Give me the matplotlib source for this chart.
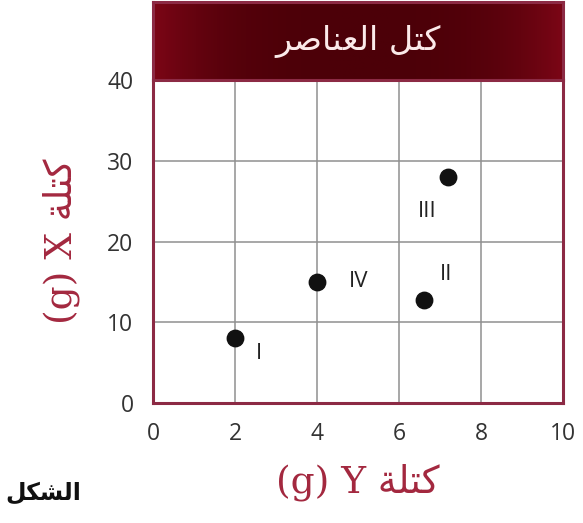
import numpy as np
import matplotlib
matplotlib.use("Agg")
import matplotlib.pyplot as plt

# Arabic text is written pre-shaped (presentation forms, visual order)
# because matplotlib does no bidi/shaping on its own
TITLE = "\uFEAE\uFEBB\uFE8E\uFEE8\uFECC\uFEDF\uFE8D \uFEDE\uFE98\uFEDB"   # كتل العناصر
MASS = "\uFE94\uFEE0\uFE98\uFEDB"                                        # كتلة
FIG = "\uFEDE\uFEDC\uFEB8\uFEDF\uFE8D"                                    # الشكل

# data
labels = ["I", "II", "III", "IV"]
mass_y = [2.0, 6.6, 7.2, 4.0]
mass_x = [8.0, 12.8, 28.0, 15.0]
x_ticks = [0, 2, 4, 6, 8, 10]
y_ticks = [0, 10, 20, 30, 40]

maroon = "#8c2a44"
label_red = "#a3283f"

fig = plt.figure(figsize=(5.83, 5.23), dpi=100)
ax = fig.add_axes([0.2624, 0.2294, 0.7033, 0.6176])
tax = fig.add_axes([0.2624, 0.847, 0.7033, 0.149])

ax.set_xlim(0, 10)
ax.set_ylim(0, 40)
ax.set_xticks(x_ticks)
ax.set_yticks(y_ticks)
ax.grid(True, color="#8f8f8f", lw=1.1)
ax.set_axisbelow(True)
ax.tick_params(length=0, labelsize=16.5, labelcolor="#333333")
ax.tick_params(axis="x", pad=14)
ax.tick_params(axis="y", pad=14)
for lab in ax.get_xticklabels() + ax.get_yticklabels():
    lab.set_fontfamily("Open Sans")
for s in ax.spines.values():
    s.set_color(maroon)
    s.set_linewidth(2.2)
ax.spines["top"].set_visible(False)

ax.scatter(mass_y, mass_x, s=140, color="#111111", zorder=3)
offsets = {"I": (17, -11), "II": (16, 18), "III": (-15, -25), "IV": (30, 0)}
for lab, x, y in zip(labels, mass_y, mass_x):
    dx, dy = offsets[lab]
    ax.annotate(lab, (x, y), xytext=(dx, dy), textcoords="offset points",
                ha="center", va="center", fontsize=16, color="#222222",
                family="Open Sans")

ax.set_xlabel("(g) Y " + MASS, fontsize=27, color=label_red,
              family=["DejaVu Serif", "DejaVu Sans"], labelpad=12)
ax.set_ylabel("(g) X " + MASS, fontsize=27, color=label_red,
              family=["DejaVu Serif", "DejaVu Sans"], labelpad=20)

# title bar
grad = np.abs(np.linspace(-1, 1, 200))[None, :] ** 3
tax.imshow(grad, cmap=matplotlib.colors.LinearSegmentedColormap.from_list(
    "bar", ["#4c0008", "#7c0616"]), aspect="auto", extent=[0, 1, 0, 1])
tax.set_xlim(0, 1)
tax.set_ylim(0, 1)
tax.set_xticks([])
tax.set_yticks([])
for s in tax.spines.values():
    s.set_color(maroon)
    s.set_linewidth(2.2)
tax.text(0.5, 0.5, TITLE, ha="center", va="center", fontsize=24,
         color="#fbeaea", family="DejaVu Sans")

fig.text(0.01, 0.058, FIG, fontsize=17, fontweight="bold", color="#111111",
         family="DejaVu Sans", ha="left", va="center")

fig.savefig("out.png", dpi=100)
